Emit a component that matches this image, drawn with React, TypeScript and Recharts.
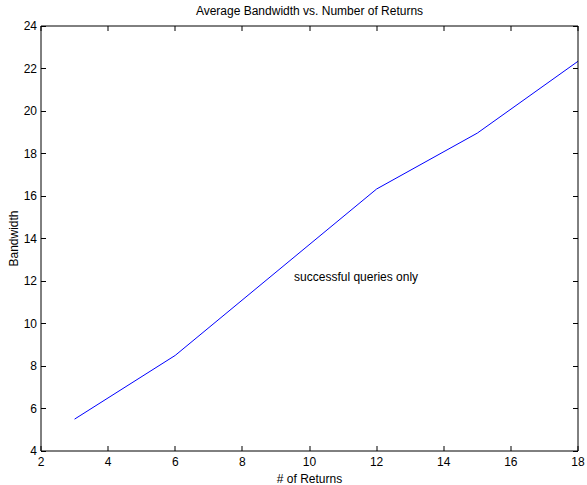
import { LineChart, Line, XAxis, YAxis, ReferenceDot } from 'recharts'

const returns = [3, 6, 12, 15, 18]
const bandwidth = [5.5, 8.5, 16.33, 18.96, 22.34]
const xTicks = [2, 4, 6, 8, 10, 12, 14, 16, 18]
const yTicks = [4, 6, 8, 10, 12, 14, 16, 18, 20, 22, 24]

const chartData = returns.map((r, i) => ({ returns: r, bandwidth: bandwidth[i] }))

const font = '"Liberation Sans", Arial, Helvetica, sans-serif'
const TICK = 5
const FS = 12

// tick marks as 1px filled rects on whole pixels so they stay crisp
const BottomTick = ({ x, y, payload }: any) => (
  <g>
    <rect x={Math.round(x) - 0.5} y={y - TICK} width={1} height={TICK} fill="#000" />
    <text x={x} y={y + 11} textAnchor="middle" dominantBaseline="central" fontSize={FS} fill="#000" fontFamily={font}>
      {payload.value}
    </text>
  </g>
)

const TopTick = ({ x, y }: any) => (
  <rect x={Math.round(x) - 0.5} y={y} width={1} height={TICK} fill="#000" />
)

const LeftTick = ({ x, y, payload }: any) => (
  <g>
    <line x1={x} y1={y} x2={x + TICK} y2={y} stroke="#000" shapeRendering="crispEdges" />
    <text x={x - 4} y={y} textAnchor="end" dominantBaseline="central" fontSize={FS} fill="#000" fontFamily={font}>
      {payload.value}
    </text>
  </g>
)

const RightTick = ({ x, y }: any) => (
  <line x1={x} y1={y} x2={x - TICK} y2={y} stroke="#000" shapeRendering="crispEdges" />
)

const Annotation = ({ viewBox }: any) => (
  <text x={viewBox.x} y={viewBox.y + viewBox.height / 2} dominantBaseline="central" fontSize={FS} fill="#000" fontFamily={font}>
    successful queries only
  </text>
)

export default function App() {
  return (
    <div style={{ position: 'absolute', left: 0, top: 0, width: 587, height: 485, background: '#fff', fontFamily: font }}>
      <div style={{ position: 'absolute', left: 41, width: 537, top: 4, textAlign: 'center', fontSize: FS, color: '#000' }}>
        Average Bandwidth vs. Number of Returns
      </div>
      <LineChart width={587} height={485} data={chartData} margin={{ top: 25, right: 8, bottom: 0, left: 0 }}>
        <XAxis
          xAxisId="bottom"
          dataKey="returns"
          type="number"
          domain={[2, 18]}
          ticks={xTicks}
          height={34}
          tickSize={0}
          tickMargin={0}
          tickLine={false}
          axisLine={{ stroke: '#000' }}
          tick={<BottomTick />}
          interval={0}
          label={{ value: '# of Returns', position: 'insideBottom', offset: 2, fontSize: FS, fill: '#000', fontFamily: font }}
        />
        <XAxis
          xAxisId="top"
          orientation="top"
          dataKey="returns"
          type="number"
          domain={[2, 18]}
          ticks={xTicks}
          height={1}
          tickSize={0}
          tickMargin={0}
          tickLine={false}
          axisLine={{ stroke: '#000' }}
          tick={<TopTick />}
          interval={0}
        />
        <YAxis
          yAxisId="left"
          type="number"
          domain={[4, 24]}
          ticks={yTicks}
          width={41}
          tickSize={0}
          tickMargin={0}
          tickLine={false}
          axisLine={{ stroke: '#000' }}
          tick={<LeftTick />}
          interval={0}
          label={{ value: 'Bandwidth', angle: -90, position: 'insideLeft', offset: 14, fontSize: FS, fill: '#000', fontFamily: font, style: { textAnchor: 'middle' } }}
        />
        <YAxis
          yAxisId="right"
          orientation="right"
          type="number"
          domain={[4, 24]}
          ticks={yTicks}
          width={1}
          tickSize={0}
          tickMargin={0}
          tickLine={false}
          axisLine={{ stroke: '#000' }}
          tick={<RightTick />}
          interval={0}
        />
        <Line
          xAxisId="top"
          yAxisId="right"
          type="linear"
          dataKey="bandwidth"
          stroke="none"
          dot={false}
          activeDot={false}
          legendType="none"
          isAnimationActive={false}
        />
        <Line
          xAxisId="bottom"
          yAxisId="left"
          type="linear"
          dataKey="bandwidth"
          stroke="#0000ff"
          strokeWidth={1}
          dot={false}
          isAnimationActive={false}
        />
        <ReferenceDot
          xAxisId="bottom"
          yAxisId="left"
          x={9.57}
          y={12.19}
          r={1}
          fill="none"
          stroke="none"
          label={<Annotation />}
        />
      </LineChart>
    </div>
  )
}
